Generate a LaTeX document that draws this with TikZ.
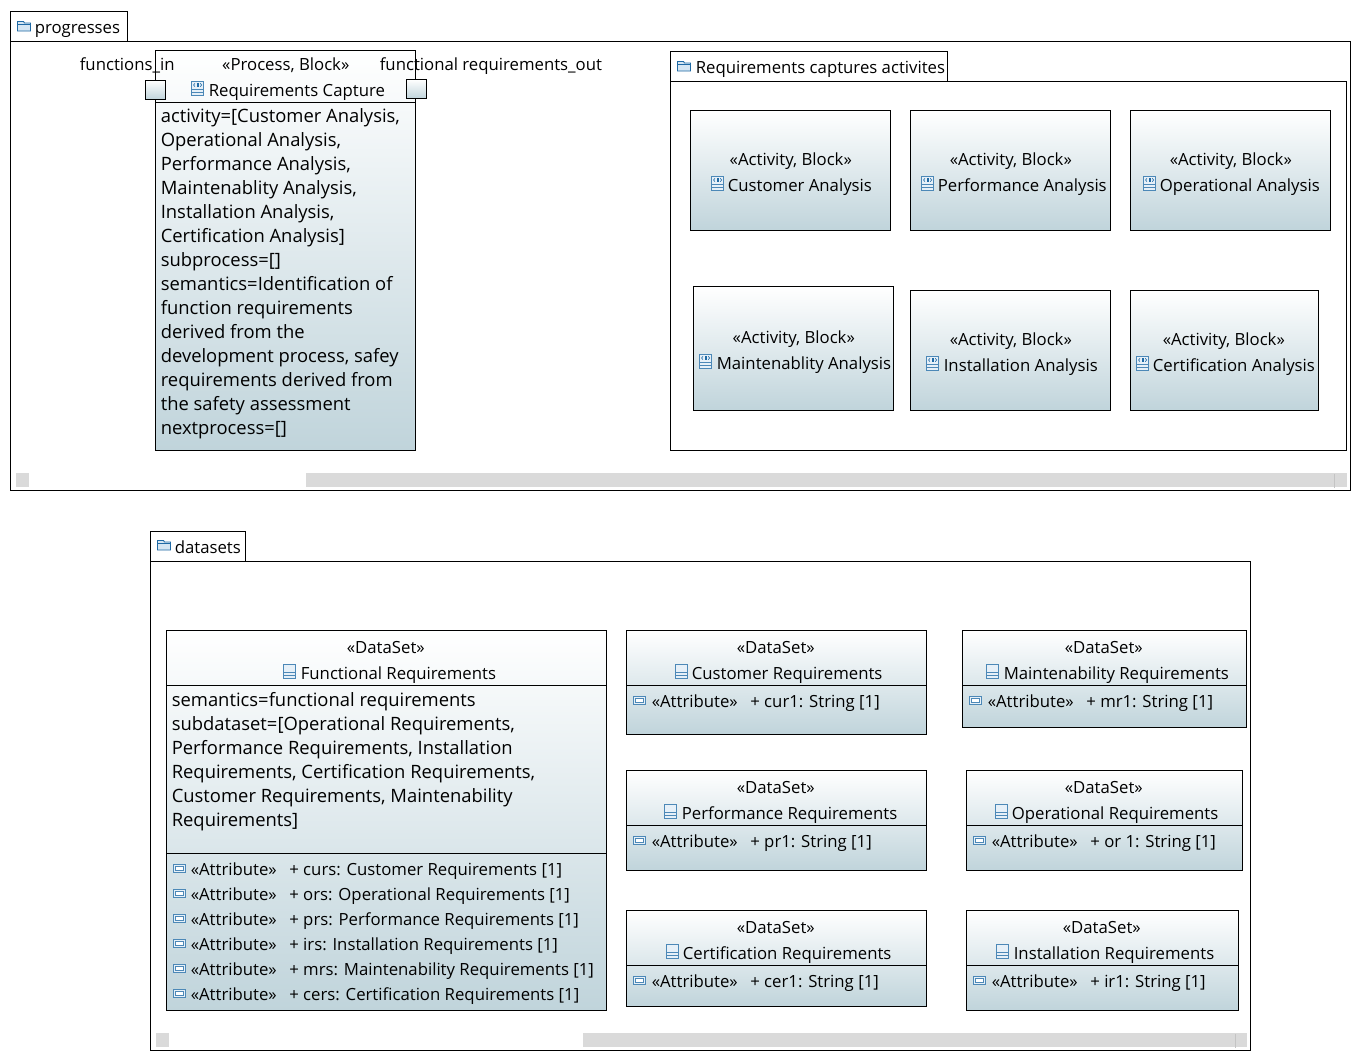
\documentclass[tikz,border=0pt]{standalone}
\usepackage{fontspec}
\setmainfont{Open Sans}
\definecolor{ublue}{HTML}{1F6AA5}
\definecolor{upale}{HTML}{D5E6F3}
\definecolor{ubot}{HTML}{C0D4DB}
\definecolor{ugrey}{HTML}{DADADA}
\definecolor{utick}{HTML}{C4C4C4}
\tikzset{
  x=1pt,y=-1pt,
  ubox/.style={draw=black,line width=1pt,anchor=north west,inner sep=0pt,outer sep=0pt,top color=white,bottom color=ubot,middle color=white!50!ubot,shading angle=0},
  pkg/.style={draw=black,line width=1pt,anchor=north west,inner sep=0pt,outer sep=0pt,fill=white},
  bar/.style={fill=ugrey,draw=none,anchor=north west,inner sep=0pt,outer sep=0pt},
  txt/.style={inner sep=0pt,outer sep=0pt,text=black,xshift=-0.7pt,font=\fontsize{16.75}{24}\selectfont},
  ltxt/.style={txt,anchor=base west},
  ctxt/.style={txt,anchor=base},
  mtxt/.style={txt,anchor=north west,align=left,font=\fontsize{18.4}{24}\selectfont},
  sep/.style={draw=black,line width=1pt},
  foldericon/.pic={
    \draw[ublue,line width=.9pt,fill=upale] (0,1.5) -- (0,0) -- (6,0) -- (7,1.5) -- (13,1.5) -- (13,9.5) -- (0,9.5) -- cycle;
    \draw[ublue,line width=.9pt] (0,2.5) -- (13,2.5);
  },
  dataicon/.pic={
    \draw[ublue!80,line width=.9pt,fill=upale!60] (0,0) rectangle (12,14);
    \draw[ublue!80,line width=.9pt] (0,8) -- (12,8) (0,11) -- (12,11);
  },
  blockicon/.pic={
    \draw[ublue!80,line width=.9pt,fill=upale!60] (0,0) rectangle (12,14);
    \draw[ublue!80,line width=.9pt] (0,8) -- (12,8) (0,11) -- (12,11);
    \fill[ublue] (5,2) rectangle (7.4,6);
    \draw[ublue,line width=.6pt] (3.4,2.4) -- (2,4) -- (3.4,5.6) (8.8,2.4) -- (10.2,4) -- (8.8,5.6);
  },
  attricon/.pic={
    \draw[ublue!80,line width=.9pt,fill=upale!60] (0,0) rectangle (12,8);
    \draw[ublue!80,line width=.7pt,fill=white] (2,2) rectangle (10,6);
  }
}
\newcommand{\ub}[5]{\node[ubox,minimum width=#4pt,minimum height=#5pt] (#1) at (#2,#3) {};}
\newcommand{\pk}[5]{\node[pkg,minimum width=#4pt,minimum height=#5pt] (#1) at (#2,#3) {};}
\newcommand{\tl}[4]{\node[ltxt] (#1) at (#2,#3) {#4};}
\newcommand{\tc}[4]{\node[ctxt] (#1) at (#2,#3) {#4};}
\newcommand{\hl}[2]{\draw[sep] (#1.west |- 0,#2) -- (#1.east |- 0,#2);}
% name, box x y w h, stereotype centre and baseline, icon x, text x, title
\newcommand{\act}[9]{%
  \ub{#1}{#2}{#3}{#4}{#5}
  \tc{#1s}{#6}{#7+1}{«Activity, Block»}
  \pic at (#8,#7+11.5) {blockicon};
  \tl{#1n}{#9}{#7+27}}
\newcommand{\attr}[6]{%
  \pic at (#2,#3-5) {attricon};
  \tl{#1}{#4}{#3+6}{«Attribute»\hspace{12.5pt}#6}}
\begin{document}
\begin{tikzpicture}
\useasboundingbox (0,0) rectangle (1361,1061);
\begin{scope}[shift={(0.5,0.5)}]
% progresses package
\pk{ptab}{10}{11}{117}{30}
\pk{pbody}{10}{41}{1340}{449}
\pic at (17,21) {foldericon};
\tl{ptabt}{35}{33}{progresses}
\node[bar,minimum width=13pt,minimum height=14pt] (pbl) at (15.5,472.5) {};
\node[bar,minimum width=1041pt,minimum height=14pt] (pbr) at (305.5,472.5) {};
\draw[utick,line width=1pt] (1334,473) -- (1334,487);
% process
\ub{proc}{155}{50}{260}{400}
\hl{proc}{102}
\tc{procs}{286}{70}{«Process, Block»}
\pic at (191,80.5) {blockicon};
\tl{procn}{209}{96}{Requirements Capture}
\ub{pin}{145}{80}{20}{19}
\ub{pout}{406}{79}{20}{19}
\tl{pinl}{80}{70}{functions\_in}
\tl{poutl}{380}{70}{functional requirements\_out}
\node[mtxt] (procb) at (161,108.5) {activity=[Customer Analysis,\\Operational Analysis,\\Performance Analysis,\\Maintenablity Analysis,\\Installation Analysis,\\Certification Analysis]\\subprocess=[]\\semantics=Identification of\\function requirements\\derived from the\\development process, safey\\requirements derived from\\the safety assessment\\nextprocess=[]};
% activities package
\pk{atab}{670}{51}{277}{30}
\pk{abody}{670}{81}{676}{369}
\pic at (677,61) {foldericon};
\tl{atabt}{696}{73}{Requirements captures activites}
\act{a1}{690}{110}{200}{120}{791}{164}{711}{728}{Customer Analysis}
\act{a2}{910}{110}{200}{120}{1011}{164}{921}{938}{Performance Analysis}
\act{a3}{1130}{110}{200}{120}{1231}{164}{1143}{1160}{Operational Analysis}
\act{a4}{693}{286}{200}{124}{794}{342}{699}{717}{Maintenablity Analysis}
\act{a5}{910}{290}{200}{120}{1011}{344}{926}{944}{Installation Analysis}
\act{a6}{1130}{290}{188}{120}{1224}{344}{1136}{1153}{Certification Analysis}
% datasets package
\pk{dtab}{150}{531}{95}{30}
\pk{dbody}{150}{561}{1100}{489}
\pic at (157,540) {foldericon};
\tl{dtabt}{175}{553}{datasets}
\node[bar,minimum width=13pt,minimum height=14pt] (dbl) at (155.5,1032.5) {};
\node[bar,minimum width=664pt,minimum height=14pt] (dbr) at (582.5,1032.5) {};
\draw[utick,line width=1pt] (1235,1033) -- (1235,1047);
% functional requirements
\ub{f}{166}{630}{440}{380}
\hl{f}{685}
\hl{f}{853}
\tc{fs}{386}{653}{«DataSet»}
\pic at (283,664) {dataicon};
\tl{fn}{301}{679}{Functional Requirements}
\node[mtxt] (fb) at (172,691.5) {semantics=functional requirements\\subdataset=[Operational Requirements,\\Performance Requirements, Installation\\Requirements, Certification Requirements,\\Customer Requirements, Maintenability\\Requirements]};
\attr{f1}{173}{869}{191}{x}{+ curs: Customer Requirements [1]}
\attr{f2}{173}{894}{191}{x}{+ ors: Operational Requirements [1]}
\attr{f3}{173}{919}{191}{x}{+ prs: Performance Requirements [1]}
\attr{f4}{173}{944}{191}{x}{+ irs: Installation Requirements [1]}
\attr{f5}{173}{969}{191}{x}{+ mrs: Maintenability Requirements [1]}
\attr{f6}{173}{994}{191}{x}{+ cers: Certification Requirements [1]}
% small datasets
\ub{c}{626}{630}{300}{104}
\hl{c}{685}
\tc{cs}{776}{653}{«DataSet»}
\pic at (675,664) {dataicon};
\tl{cn}{692}{679}{Customer Requirements}
\attr{c1}{633}{701}{652}{x}{+ cur1: String [1]}
\ub{m}{962}{630}{284}{97}
\hl{m}{685}
\tc{ms}{1104}{653}{«DataSet»}
\pic at (986,664) {dataicon};
\tl{mn}{1004}{679}{Maintenability Requirements}
\attr{m1}{969}{701}{988}{x}{+ mr1: String [1]}
\ub{p}{626}{770}{300}{100}
\hl{p}{825}
\tc{ps}{776}{793}{«DataSet»}
\pic at (664,804) {dataicon};
\tl{pn}{682}{819}{Performance Requirements}
\attr{p1}{633}{841}{652}{x}{+ pr1: String [1]}
\ub{o}{966}{770}{276}{100}
\hl{o}{825}
\tc{os}{1104}{793}{«DataSet»}
\pic at (995,804) {dataicon};
\tl{on}{1012}{819}{Operational Requirements}
\attr{o1}{973}{841}{992}{x}{+ or 1: String [1]}
\ub{e}{626}{910}{300}{96}
\hl{e}{965}
\tc{es}{776}{933}{«DataSet»}
\pic at (666,944) {dataicon};
\tl{en}{683}{959}{Certification Requirements}
\attr{e1}{633}{981}{652}{x}{+ cer1: String [1]}
\ub{i}{966}{910}{272}{100}
\hl{i}{965}
\tc{is}{1102}{933}{«DataSet»}
\pic at (996,944) {dataicon};
\tl{in1}{1014}{959}{Installation Requirements}
\attr{i1}{973}{981}{992}{x}{+ ir1: String [1]}
\end{scope}
\end{tikzpicture}
\end{document}
